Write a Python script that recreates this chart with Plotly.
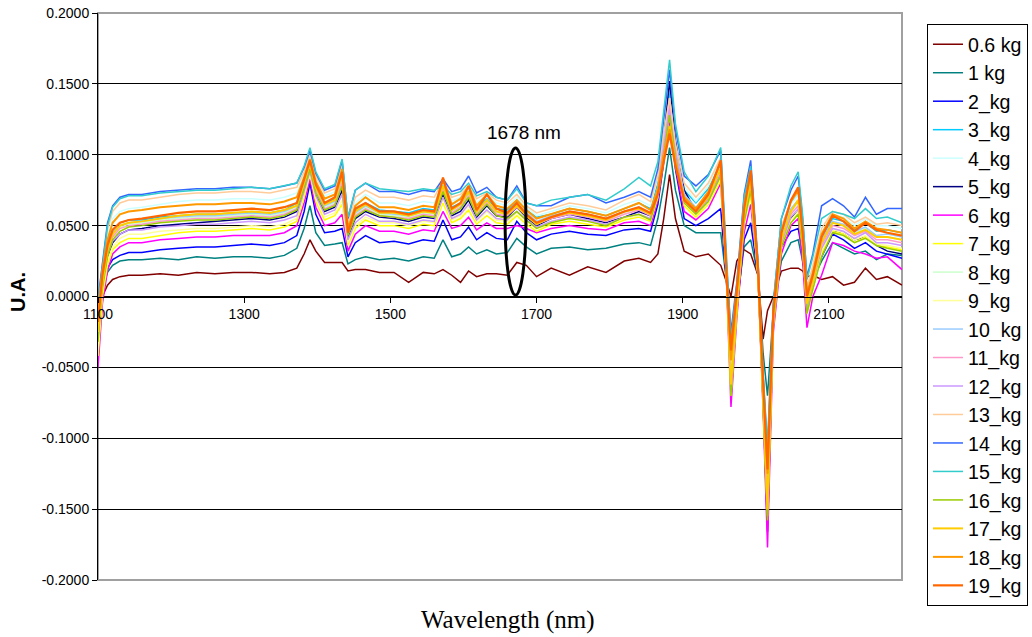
import plotly.graph_objects as go

# Wavelength grid (nm)
wavelength = [1100, 1106, 1113, 1120, 1130, 1142,
              1160, 1185, 1210, 1235, 1260, 1285, 1310, 1335, 1355,
              1372, 1382, 1390, 1398, 1410, 1424, 1434, 1442, 1452, 1466,
              1485, 1505, 1525, 1545, 1560,
              1572, 1584, 1596, 1607, 1618, 1632, 1645, 1660, 1673, 1686, 1700,
              1720, 1745, 1770, 1795, 1820, 1840, 1856,
              1866, 1874, 1882, 1890, 1902, 1918, 1935, 1952, 1960, 1966,
              1974, 1984, 1993, 2003, 2010, 2016, 2024, 2035, 2048, 2058,
              2064, 2070, 2078, 2090, 2105, 2120, 2135, 2150, 2165, 2180, 2200]

# Series values in thousandths of U.A.
ua_0_6kg = [-15, 0, 8, 12, 14, 15,
            15, 16, 15, 17, 16, 17, 17, 16, 17,
            20, 30, 40, 32, 24, 24, 24, 18, 19, 19,
            17, 17, 10, 17, 16,
            19, 15, 10, 18, 14, 16, 16, 15, 24, 22, 14,
            20, 15, 21, 17, 25, 27, 24,
            30, 55, 86, 55, 32, 28, 30, 22, 10, 0,
            25, 33, 30, 15, -30, -10, 0, 18, 20, 20,
            18, 14, 15, 12, 14, 8, 10, 20, 12, 14, 8]
ua_1kg = [-20, 5, 17, 22, 25, 26,
          26, 27, 26, 28, 27, 28, 28, 27, 29,
          34, 48, 64, 45, 36, 37, 38, 23, 26, 28,
          26, 27, 25, 28, 27,
          40, 28, 30, 35, 30, 33, 30, 31, 41, 35, 30,
          34, 35, 33, 34, 37, 38, 36,
          55, 78, 105, 75, 50, 45, 45, 45, 10, -50,
          -5, 35, 40, 15, -40, -70, -10, 25, 38, 40,
          25, 8, 12, 25, 38, 34, 30, 32, 26, 30, 29]
ua_2kg = [-30, 5, 20, 26, 29, 31,
          31, 33, 34, 35, 35, 36, 37, 36, 38,
          43, 60, 80, 58, 45, 46, 48, 28, 38, 43,
          38, 39, 37, 40, 39,
          54, 40, 42, 49, 40, 45, 41, 40, 53, 45, 40,
          44, 46, 44, 43, 47, 48, 46,
          65, 95, 130, 90, 55, 50, 55, 62, 10, -65,
          -10, 40, 52, 15, -70, -150, -15, 35, 46, 48,
          30, 3, 12, 28, 44, 40, 34, 38, 32, 30, 27]
ua_3kg = [-15, 15, 37, 47, 52, 54,
          54, 56, 57, 58, 58, 59, 59, 59, 61,
          66, 81, 95, 78, 66, 69, 86, 48, 61, 66,
          61, 60, 59, 62, 61,
          76, 63, 66, 74, 62, 69, 62, 61, 68, 61, 56,
          58, 62, 60, 57, 62, 66, 62,
          80, 115, 145, 110, 75, 66, 76, 95, 18, -55,
          0, 66, 86, 20, -60, -118, -8, 47, 66, 72,
          48, 2, 18, 42, 55, 53, 47, 52, 46, 47, 45]
ua_4kg = [-10, 20, 43, 55, 60, 62,
          63, 65, 67, 68, 68, 69, 69, 68, 70,
          73, 86, 99, 83, 71, 74, 92, 50, 66, 72,
          66, 66, 64, 67, 66,
          80, 67, 70, 77, 66, 72, 66, 64, 70, 63, 57,
          60, 64, 62, 59, 65, 68, 64,
          85, 120, 150, 112, 78, 67, 78, 96, 20, -50,
          2, 66, 85, 20, -64, -128, -8, 47, 65, 72,
          48, 5, 20, 45, 57, 56, 50, 55, 50, 50, 48]
ua_5kg = [-25, 8, 28, 38, 44, 47,
          48, 50, 51, 52, 53, 54, 55, 54, 56,
          60, 75, 90, 72, 60, 63, 75, 42, 55, 60,
          56, 55, 53, 56, 55,
          72, 57, 60, 68, 56, 64, 57, 56, 63, 56, 50,
          55, 58, 55, 52, 56, 60, 57,
          75, 110, 152, 110, 75, 60, 70, 88, 15, -65,
          -5, 60, 78, 15, -75, -166, -15, 40, 55, 60,
          40, -5, 12, 30, 46, 45, 40, 42, 36, 32, 30]
ua_6kg = [-50, -5, 18, 30, 35, 38,
          38, 40, 41, 42, 42, 43, 43, 43, 45,
          50, 66, 83, 63, 50, 52, 58, 32, 44, 50,
          46, 46, 44, 47, 46,
          60, 48, 50, 56, 47, 52, 48, 48, 50, 48, 45,
          48, 50, 48, 47, 52, 53, 50,
          68, 95, 125, 92, 60, 54, 62, 80, 10, -78,
          -15, 45, 65, 15, -80, -177, -25, 30, 50, 55,
          25, -22, 0, 15, 38, 36, 32, 30, 27, 28, 19]
ua_7kg = [-42, 0, 22, 33, 38, 41,
          41, 43, 45, 46, 46, 47, 48, 47, 49,
          53, 70, 86, 67, 54, 57, 65, 36, 48, 54,
          50, 50, 48, 51, 50,
          66, 52, 55, 61, 51, 57, 52, 51, 57, 51, 46,
          51, 53, 51, 49, 54, 56, 53,
          70, 100, 130, 98, 64, 56, 65, 82, 12, -70,
          -10, 52, 72, 15, -75, -155, -20, 35, 52, 58,
          35, -12, 5, 30, 46, 44, 38, 42, 36, 35, 33]
ua_8kg = [-28, 8, 32, 43, 49, 51,
          52, 54, 55, 56, 56, 57, 58, 57, 59,
          63, 78, 92, 75, 63, 66, 82, 45, 58, 63,
          58, 57, 56, 59, 58,
          76, 60, 64, 72, 59, 67, 59, 58, 64, 58, 52,
          56, 59, 57, 54, 59, 62, 58,
          76, 108, 138, 104, 71, 62, 71, 89, 15, -60,
          -4, 60, 80, 17, -66, -135, -12, 42, 60, 66,
          42, -4, 12, 38, 52, 50, 45, 48, 42, 42, 40]
ua_9kg = [-38, 3, 25, 35, 41, 44,
          44, 46, 47, 48, 48, 49, 50, 49, 51,
          55, 72, 87, 69, 56, 59, 68, 38, 50, 56,
          52, 52, 50, 53, 52,
          69, 54, 57, 64, 53, 60, 54, 53, 59, 53, 48,
          53, 55, 53, 51, 55, 57, 54,
          72, 102, 128, 98, 66, 58, 66, 84, 12, -68,
          -8, 54, 74, 15, -72, -150, -18, 37, 54, 60,
          36, -10, 7, 32, 47, 45, 40, 43, 37, 36, 34]
ua_10kg = [-20, 12, 35, 45, 50, 52,
           53, 55, 56, 57, 57, 58, 59, 58, 60,
           64, 79, 93, 76, 64, 67, 83, 46, 59, 64,
           59, 58, 57, 60, 59,
           77, 61, 65, 73, 60, 68, 60, 59, 65, 59, 53,
           57, 60, 58, 55, 60, 63, 59,
           77, 110, 140, 106, 72, 63, 72, 90, 16, -58,
           -3, 62, 82, 18, -64, -130, -10, 44, 62, 68,
           44, -2, 14, 40, 53, 51, 46, 49, 43, 44, 42]
ua_11kg = [-25, 10, 32, 42, 48, 50,
           51, 53, 54, 55, 55, 56, 57, 56, 58,
           62, 77, 91, 74, 62, 65, 80, 44, 57, 62,
           57, 56, 55, 58, 57,
           75, 59, 63, 71, 58, 66, 58, 57, 63, 57, 51,
           55, 58, 56, 53, 58, 61, 57,
           75, 106, 135, 102, 70, 61, 70, 88, 14, -62,
           -5, 58, 80, 16, -68, -140, -14, 40, 58, 64,
           40, -6, 10, 36, 50, 48, 43, 46, 40, 40, 38]
ua_12kg = [-30, 8, 30, 39, 44, 47,
           47, 49, 50, 51, 51, 52, 53, 52, 54,
           57, 74, 88, 71, 58, 61, 72, 40, 52, 58,
           53, 53, 51, 54, 53,
           70, 55, 58, 65, 54, 61, 55, 54, 60, 54, 49,
           53, 56, 54, 51, 56, 58, 55,
           73, 104, 132, 100, 68, 59, 68, 86, 14, -66,
           -6, 56, 76, 15, -70, -145, -16, 38, 56, 62,
           38, -8, 9, 34, 48, 46, 41, 45, 38, 38, 36]
ua_13kg = [-8, 23, 47, 60, 66, 68,
           68, 70, 72, 73, 73, 74, 74, 73, 75,
           77, 88, 100, 85, 73, 76, 93, 52, 70, 75,
           70, 70, 68, 71, 70,
           82, 70, 72, 78, 69, 73, 68, 66, 72, 64, 59,
           62, 66, 64, 61, 68, 72, 67,
           85, 115, 140, 108, 80, 70, 80, 98, 18, -45,
           4, 68, 88, 20, -60, -120, -6, 50, 67, 74,
           50, 6, 22, 48, 60, 58, 52, 56, 51, 52, 50]
ua_14kg = [-2, 25, 52, 64, 70, 72,
           72, 74, 75, 76, 76, 77, 77, 76, 78,
           80, 91, 103, 87, 75, 78, 96, 55, 75, 80,
           74, 74, 72, 75, 74,
           83, 74, 76, 85, 73, 77, 70, 68, 78, 66, 64,
           64, 70, 72, 66, 70, 74, 70,
           90, 125, 160, 118, 85, 78, 86, 103, 22, -25,
           10, 72, 96, 25, -55, -110, -5, 55, 75, 85,
           55, 14, 30, 64, 69, 64, 56, 70, 58, 62, 62]
ua_15kg = [-5, 22, 50, 63, 69, 71,
           71, 73, 74, 75, 75, 76, 77, 76, 78,
           80, 92, 105, 88, 76, 79, 97, 56, 75, 80,
           76, 75, 74, 76, 75,
           78, 72, 74, 80, 71, 74, 70, 68, 76, 66, 64,
           68, 70, 72, 68, 76, 84, 78,
           95, 130, 167, 122, 88, 74, 85, 105, 24, -30,
           8, 70, 92, 24, -55, -105, -4, 55, 78, 88,
           58, 12, 28, 55, 60, 58, 55, 62, 55, 56, 52]
ua_16kg = [-32, 5, 28, 40, 46, 49,
           50, 52, 53, 54, 54, 55, 56, 55, 57,
           61, 76, 90, 73, 61, 64, 78, 43, 56, 61,
           57, 56, 54, 57, 56,
           74, 58, 62, 70, 57, 65, 57, 55, 60, 54, 48,
           52, 55, 53, 50, 56, 58, 54,
           72, 100, 128, 98, 66, 58, 67, 85, 12, -70,
           -10, 52, 75, 15, -75, -158, -20, 35, 52, 58,
           35, -12, 5, 28, 45, 43, 38, 41, 36, 34, 32]
ua_17kg = [-25, 10, 33, 44, 50, 52,
           53, 55, 57, 58, 58, 59, 60, 59, 61,
           64, 80, 94, 77, 65, 68, 85, 46, 60, 65,
           59, 59, 57, 60, 59,
           78, 61, 65, 74, 60, 68, 60, 58, 64, 57, 51,
           56, 59, 57, 54, 60, 62, 58,
           74, 98, 120, 95, 68, 60, 70, 90, 14, -62,
           -6, 58, 82, 16, -70, -150, -15, 40, 60, 68,
           40, -5, 10, 38, 52, 50, 44, 47, 42, 42, 40]
ua_18kg = [-12, 18, 40, 52, 58, 60,
           61, 63, 64, 65, 65, 66, 66, 65, 67,
           70, 84, 97, 81, 69, 72, 90, 48, 64, 70,
           63, 63, 61, 64, 63,
           82, 65, 69, 78, 64, 72, 64, 62, 68, 61, 55,
           58, 62, 60, 57, 62, 66, 61,
           76, 100, 118, 95, 70, 62, 74, 94, 16, -45,
           3, 64, 87, 20, -62, -125, -12, 46, 67, 75,
           46, 2, 17, 44, 58, 55, 48, 53, 48, 47, 45]
ua_19kg = [-18, 15, 36, 47, 52, 54,
           55, 57, 59, 60, 60, 61, 62, 61, 63,
           66, 82, 96, 79, 66, 70, 88, 45, 62, 66,
           60, 60, 58, 61, 60,
           84, 62, 66, 78, 61, 72, 62, 59, 66, 58, 52,
           56, 60, 58, 55, 60, 63, 59,
           72, 95, 115, 92, 68, 60, 72, 96, 15, -38,
           5, 62, 89, 20, -60, -122, -10, 45, 68, 77,
           45, 0, 15, 42, 57, 53, 46, 52, 47, 45, 43]

series_labels = ["0.6 kg", "1 kg", "2_kg", "3_kg", "4_kg", "5_kg", "6_kg", "7_kg",
                 "8_kg", "9_kg", "10_kg", "11_kg", "12_kg", "13_kg", "14_kg",
                 "15_kg", "16_kg", "17_kg", "18_kg", "19_kg"]
series_values = [ua_0_6kg, ua_1kg, ua_2kg, ua_3kg, ua_4kg, ua_5kg, ua_6kg, ua_7kg,
                 ua_8kg, ua_9kg, ua_10kg, ua_11kg, ua_12kg, ua_13kg, ua_14kg,
                 ua_15kg, ua_16kg, ua_17kg, ua_18kg, ua_19kg]
series_colors = ["#800000", "#008080", "#0000FF", "#00CCFF", "#CCFFFF", "#000080",
                 "#FF00FF", "#FFFF00", "#CCFFCC", "#FFFF99", "#99CCFF", "#FF99CC",
                 "#CC99FF", "#FFCC99", "#3366FF", "#33CCCC", "#99CC00", "#FFCC00",
                 "#FF9900", "#FF6600"]
series_widths = [1.5] * 17 + [2, 2, 2.2]

y_tickvals = [-0.2, -0.15, -0.1, -0.05, 0.0, 0.05, 0.1, 0.15, 0.2]
y_ticktext = ["-0.2000", "-0.1500", "-0.1000", "-0.0500", "0.0000",
              "0.0500", "0.1000", "0.1500", "0.2000"]
x_tickvals = [1100, 1300, 1500, 1700, 1900, 2100]

for vals in series_values:
    assert len(vals) == len(wavelength), len(vals)

fig = go.Figure()
for lab, vals, col, w in zip(series_labels, series_values, series_colors, series_widths):
    fig.add_trace(go.Scatter(
        x=wavelength, y=[v / 1000.0 for v in vals], mode="lines", name=lab,
        line=dict(color=col, width=w),
    ))

AX_FONT = dict(family="Arial, Liberation Sans, sans-serif", size=14, color="black")

# plot-area edges in page pixels
L, T, R_EDGE, B_EDGE = 98, 13, 902, 580
W, H = 1032, 637
PW, PH = R_EDGE - L, B_EDGE - T

fig.update_layout(
    width=W, height=H,
    margin=dict(l=L, r=W - R_EDGE, t=T, b=H - B_EDGE, autoexpand=False),
    paper_bgcolor="white", plot_bgcolor="white",
    showlegend=True,
    legend=dict(
        x=(927 - L) / PW, y=1 - (24 - T) / PH, xanchor="left", yanchor="top",
        bordercolor="black", borderwidth=1, bgcolor="white",
        font=dict(family="Arial, Liberation Sans, sans-serif", size=19.6, color="black"),
        itemwidth=30, maxheight=620,
    ),
    xaxis=dict(
        range=[1100, 2200], tickmode="array", tickvals=x_tickvals,
        ticktext=[str(v) for v in x_tickvals],
        showgrid=False, zeroline=False, showline=True, linecolor="black", linewidth=1,
        ticks="outside", ticklen=5, tickcolor="black", tickfont=AX_FONT,
        anchor="free", position=0.5,
    ),
    yaxis=dict(
        range=[-0.2, 0.2], tickmode="array", tickvals=y_tickvals, ticktext=y_ticktext,
        showgrid=True, gridcolor="black", gridwidth=1, zeroline=False,
        showline=True, linecolor="black", linewidth=1,
        ticks="outside", ticklen=5, tickcolor="black", tickfont=AX_FONT,
    ),
    shapes=[
        dict(type="rect", xref="paper", yref="paper", x0=0, x1=1, y0=0, y1=1,
             line=dict(color="#A0A0A0", width=2), layer="below"),
        dict(type="circle", xref="x", yref="y", x0=1657, x1=1685.5, y0=0.001, y1=0.1048,
             line=dict(color="black", width=3)),
    ],
    annotations=[
        dict(text="1678 nm", x=1683, y=0.116, xref="x", yref="y", showarrow=False,
             xanchor="center",
             font=dict(family="Arial, Liberation Sans, sans-serif", size=19, color="black")),
        dict(text="Wavelength (nm)", x=(508 - L) / PW, y=(B_EDGE - 620) / PH,
             xref="paper", yref="paper", showarrow=False, xanchor="center", yanchor="middle",
             font=dict(family="Times New Roman, Liberation Serif, serif", size=25, color="black")),
        dict(text="<b>U.A.</b>", x=(18 - L) / PW, y=(B_EDGE - 292) / PH,
             xref="paper", yref="paper", showarrow=False, textangle=-90,
             xanchor="center", yanchor="middle",
             font=dict(family="Arial, Liberation Sans, sans-serif", size=20, color="black")),
    ],
)

fig.write_html("out.html", config={"displayModeBar": False},
               post_script="document.body.style.margin='0';")
